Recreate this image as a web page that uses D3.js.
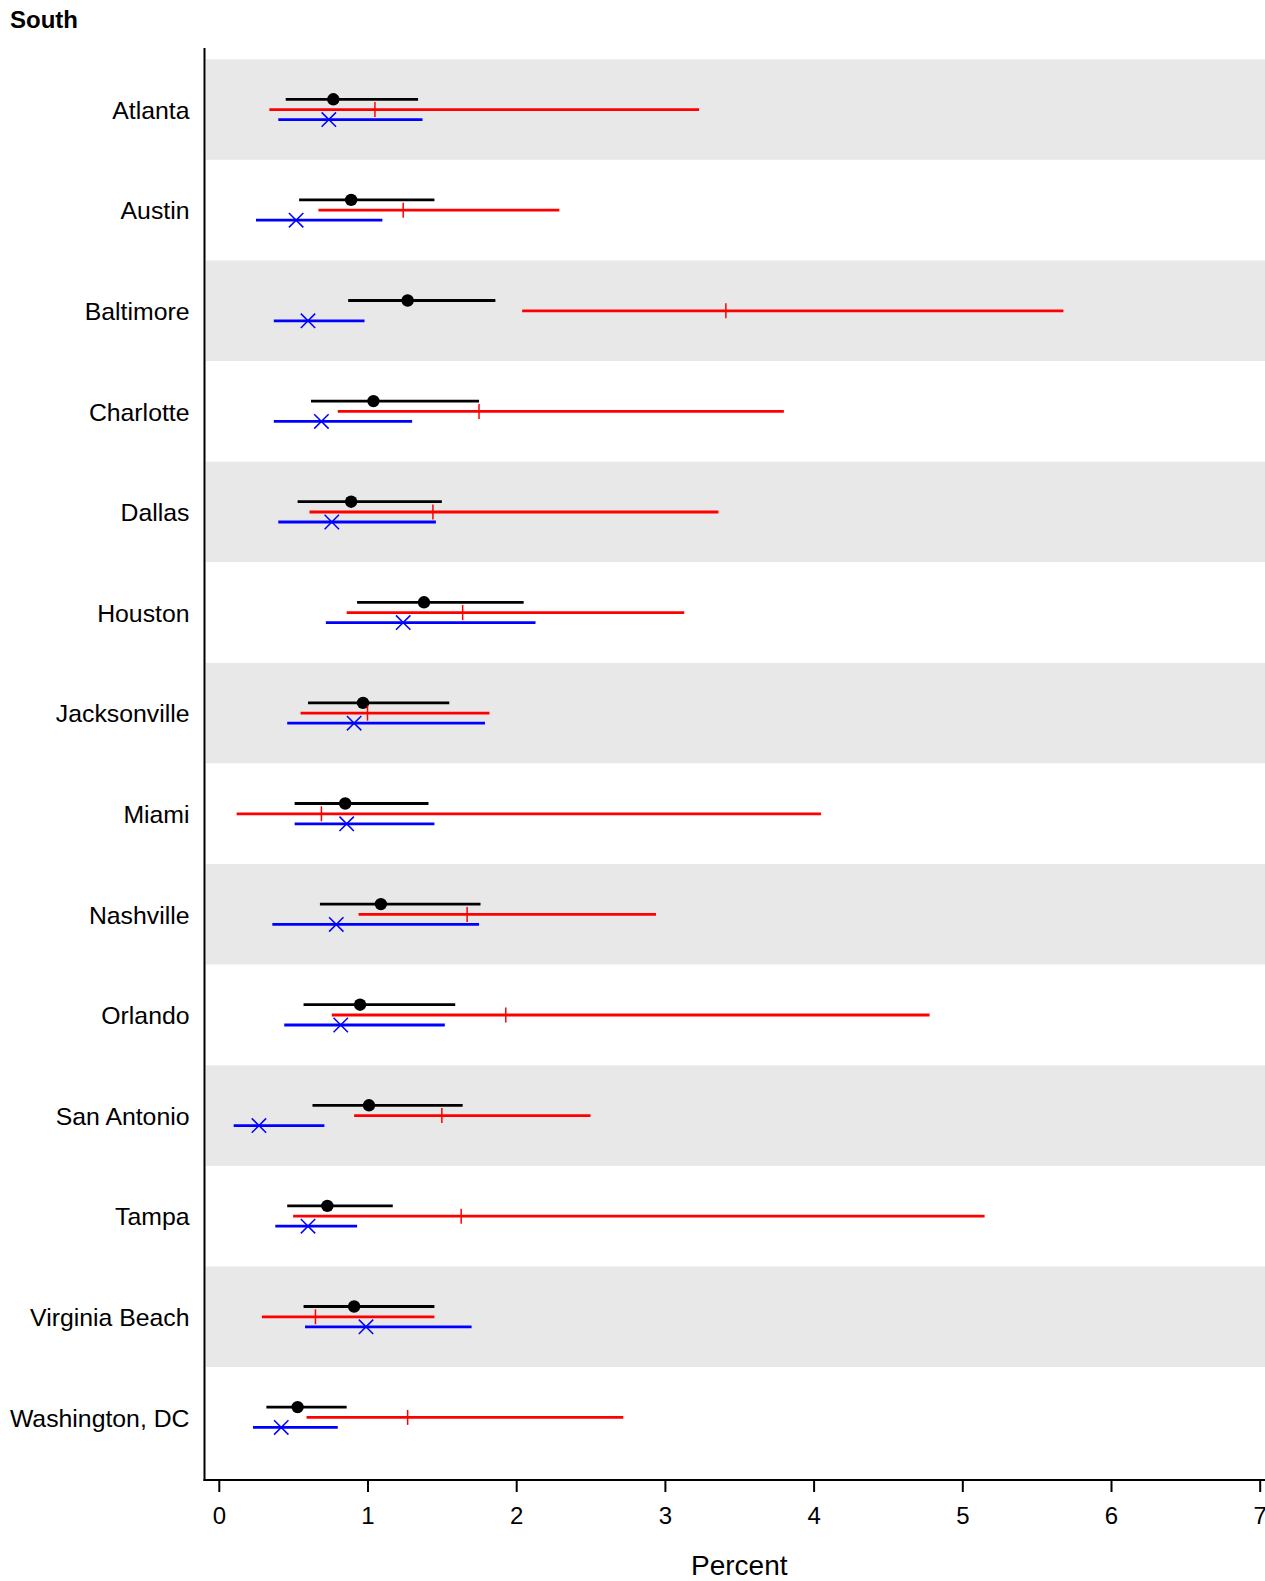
<!DOCTYPE html>
<html>
<head>
<meta charset="utf-8">
<script src="https://cdn.jsdelivr.net/npm/d3@7"></script>
<style>
  html, body { margin: 0; padding: 0; background: #fff; }
  svg { display: block; }
  text { font-family: "Liberation Sans", Arial, Helvetica, sans-serif; }
</style>
</head>
<body>
<script>
// ---- Data ----
const categories = ["Atlanta", "Austin", "Baltimore", "Charlotte", "Dallas", "Houston",
  "Jacksonville", "Miami", "Nashville", "Orlando", "San Antonio", "Tampa",
  "Virginia Beach", "Washington, DC"];

const blackEst = [0.77, 0.89, 1.27, 1.04, 0.89, 1.38, 0.97, 0.85, 1.09, 0.95, 1.01, 0.73, 0.91, 0.53];
const blackLo  = [0.45, 0.54, 0.87, 0.62, 0.53, 0.93, 0.60, 0.51, 0.68, 0.57, 0.63, 0.46, 0.57, 0.32];
const blackHi  = [1.34, 1.45, 1.86, 1.75, 1.50, 2.05, 1.55, 1.41, 1.76, 1.59, 1.64, 1.17, 1.45, 0.86];

const redEst = [1.05, 1.24, 3.41, 1.75, 1.44, 1.64, 1.00, 0.69, 1.67, 1.93, 1.50, 1.63, 0.65, 1.27];
const redLo  = [0.34, 0.67, 2.04, 0.80, 0.61, 0.86, 0.55, 0.12, 0.94, 0.76, 0.91, 0.50, 0.29, 0.59];
const redHi  = [3.23, 2.29, 5.68, 3.80, 3.36, 3.13, 1.82, 4.05, 2.94, 4.78, 2.50, 5.15, 1.45, 2.72];

const blueEst = [0.74, 0.52, 0.60, 0.69, 0.76, 1.24, 0.91, 0.86, 0.79, 0.82, 0.27, 0.60, 0.99, 0.42];
const blueLo  = [0.40, 0.25, 0.37, 0.37, 0.40, 0.72, 0.46, 0.51, 0.36, 0.44, 0.10, 0.38, 0.58, 0.23];
const blueHi  = [1.37, 1.10, 0.98, 1.30, 1.46, 2.13, 1.79, 1.45, 1.75, 1.52, 0.71, 0.93, 1.70, 0.80];

const xTicks = [0, 1, 2, 3, 4, 5, 6, 7];
const title = "South";
const xLabel = "Percent";

// ---- Layout ----
const W = 1265, H = 1581;
const frameLeft = 204.5, frameRight = 1265, frameTop = 48, frameBottom = 1480;

const svg = d3.select("body").append("svg").attr("width", W).attr("height", H);

const x = d3.scaleLinear().domain([0, 7]).range([218.8, 1259.7]);
const y = d3.scaleBand().domain(categories).range([59.3, 59.3 + 14 * 100.6]).padding(0);

// Title
svg.append("text").attr("x", 10).attr("y", 28)
  .attr("font-size", 24).attr("font-weight", "bold").attr("fill", "#000").text(title);

// Bands
svg.append("g").selectAll("rect").data(categories).join("rect")
  .attr("x", frameLeft + 1.5).attr("width", frameRight - frameLeft - 1.5)
  .attr("y", d => y(d)).attr("height", y.bandwidth())
  .attr("fill", (d, i) => i % 2 === 0 ? "#e8e8e8" : "#ffffff");

// Category labels
svg.append("g").selectAll("text").data(categories).join("text")
  .attr("x", 189.5).attr("y", d => y(d) + y.bandwidth() / 2)
  .attr("dy", "0.37em").attr("text-anchor", "end")
  .attr("font-size", 24.8).attr("fill", "#000").text(d => d);

// Series
const series = [
  { est: blackEst, lo: blackLo, hi: blackHi, color: "#000000", off: -10.3, marker: "dot" },
  { est: redEst, lo: redLo, hi: redHi, color: "#ff0000", off: 0, marker: "tick" },
  { est: blueEst, lo: blueLo, hi: blueHi, color: "#0000ff", off: 10, marker: "x" }
];

series.forEach(s => {
  const g = svg.append("g");
  const rows = categories.map((c, i) => ({ c, est: s.est[i], lo: s.lo[i], hi: s.hi[i] }));
  const cy = d => y(d.c) + y.bandwidth() / 2 + s.off;
  g.selectAll("line.ci").data(rows).join("line").attr("class", "ci")
    .attr("x1", d => x(d.lo)).attr("x2", d => x(d.hi))
    .attr("y1", cy).attr("y2", cy)
    .attr("stroke", s.color).attr("stroke-width", 2.8);
  if (s.marker === "dot") {
    g.selectAll("circle").data(rows).join("circle")
      .attr("cx", d => x(d.est)).attr("cy", cy).attr("r", 6.2).attr("fill", s.color);
  } else if (s.marker === "tick") {
    g.selectAll("line.mk").data(rows).join("line").attr("class", "mk")
      .attr("x1", d => x(d.est)).attr("x2", d => x(d.est))
      .attr("y1", d => cy(d) - 7.5).attr("y2", d => cy(d) + 7.5)
      .attr("stroke", s.color).attr("stroke-width", 1.5);
  } else {
    g.selectAll("path.mk").data(rows).join("path").attr("class", "mk")
      .attr("d", d => {
        const px = x(d.est), py = cy(d), r = 7.2;
        return `M${px - r},${py - r}L${px + r},${py + r}M${px - r},${py + r}L${px + r},${py - r}`;
      })
      .attr("stroke", s.color).attr("stroke-width", 1.5).attr("fill", "none");
  }
});

// Axes frame
svg.append("line").attr("x1", frameLeft).attr("x2", frameLeft)
  .attr("y1", frameTop).attr("y2", frameBottom + 1)
  .attr("stroke", "#000").attr("stroke-width", 2);
svg.append("line").attr("x1", frameLeft - 1).attr("x2", frameRight)
  .attr("y1", frameBottom).attr("y2", frameBottom)
  .attr("stroke", "#000").attr("stroke-width", 2);

// X axis
const xAxis = svg.append("g").attr("transform", `translate(0,${frameBottom})`)
  .call(d3.axisBottom(x).tickValues(xTicks).tickFormat(d3.format("d"))
    .tickSize(12).tickSizeOuter(0).tickPadding(15));
xAxis.select(".domain").remove();
xAxis.selectAll(".tick line").attr("stroke", "#000").attr("stroke-width", 2);
xAxis.selectAll(".tick text").attr("font-size", 24).attr("fill", "#000")
  .attr("font-family", "'Liberation Sans', Arial, sans-serif");

svg.append("text").attr("x", x(3.5)).attr("y", 1575)
  .attr("text-anchor", "middle").attr("font-size", 28).attr("fill", "#000").text(xLabel);
</script>
</body>
</html>
